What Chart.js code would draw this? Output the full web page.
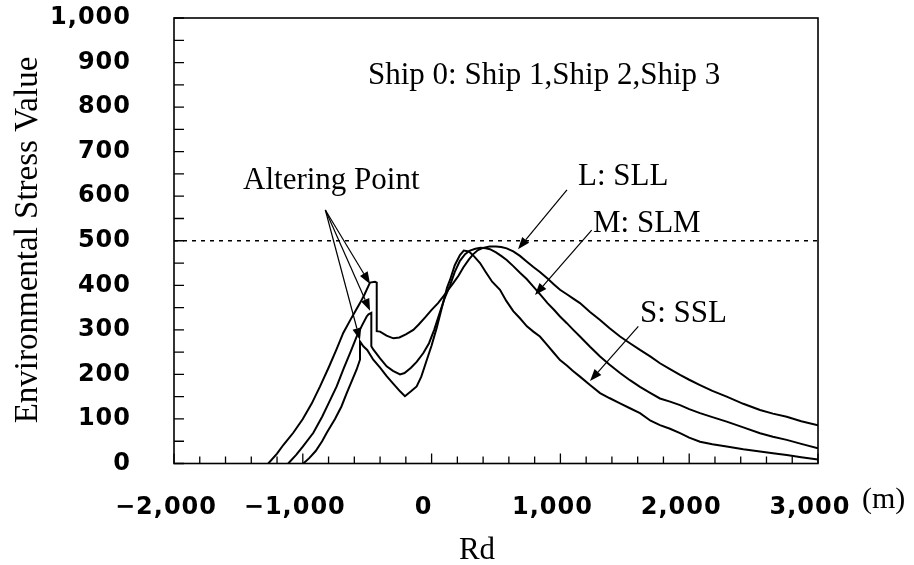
<!DOCTYPE html>
<html lang="en">
<head>
  <meta charset="UTF-8">
  <title>Environmental Stress Value vs Rd</title>
  <script src="https://cdn.jsdelivr.net/npm/chart.js"></script>
  <style>
    body { margin: 0; background: #fff; }
    canvas { display: block; }
  </style>
</head>
<body>
  <canvas id="esvChart" width="914" height="565"></canvas>

  <script>
    // Rd (m) and environmental stress value for each ship pair
    const rdL = [-1268, -1200, -1150, -1074, -1000, -930, -866, -800, -740, -686, -620, -556, -520, -491, -478, -440, -426,
      -426, -400, -350, -297, -250, -200, -142, -100, -50, 0, 50, 91, 130, 168, 210, 246, 290, 324, 360, 400, 450, 500,
      540, 583, 634, 686, 740, 790, 841, 900, 950, 997, 1050, 1100, 1152, 1230, 1308, 1380, 1463, 1540, 1618, 1700, 1773,
      1851, 1929, 2000, 2084, 2180, 2291, 2420, 2550, 2650, 2757, 2870, 3000];
    const esvL = [0, 22, 42, 69, 100, 135, 173, 215, 255, 293, 328, 360, 380, 398, 406, 408, 406,
      297, 296, 287, 281, 283, 290, 300, 312, 328, 345, 360, 375, 390, 405, 422, 440, 458, 470, 479, 484, 487, 487,
      486, 483, 476, 466, 453, 441, 430, 415, 402, 390, 380, 370, 360, 340, 322, 304, 285, 270, 255, 240, 225,
      212, 199, 188, 176, 163, 150, 134, 120, 112, 105, 95, 86];

    const rdM = [-1113, -1050, -1000, -918, -850, -800, -737, -680, -630, -582, -540, -504, -490, -468,
      -468, -453, -400, -349, -300, -245, -210, -160, -116, -64, -20, 20, 65, 100, 143, 180, 220, 260, 298, 340, 380,
      420, 453, 500, 540, 583, 634, 686, 738, 790, 841, 900, 950, 997, 1050, 1100, 1152, 1230, 1308, 1380, 1463, 1540,
      1618, 1700, 1773, 1851, 1929, 2000, 2084, 2180, 2291, 2420, 2550, 2650, 2757, 2870, 3000];
    const esvM = [0, 20, 38, 69, 105, 135, 173, 215, 250, 285, 310, 330, 335, 338,
      263, 256, 236, 218, 208, 200, 203, 215, 228, 248, 270, 300, 340, 370, 400, 430, 455, 470, 478, 482, 484,
      483, 481, 474, 466, 457, 443, 428, 414, 397, 380, 360, 345, 330, 315, 300, 285, 262, 240, 222, 203, 187,
      172, 158, 146, 139, 131, 122, 113, 104, 94, 81, 68, 60, 53, 44, 34];

    const rdS = [-996, -950, -900, -850, -814, -750, -700, -659, -620, -582, -556,
      -556, -530, -500, -453, -400, -349, -300, -245, -207, -160, -116, -80, -40, 0, 40, 80, 120, 143, 180, 220, 250,
      290, 330, 376, 420, 470, 531, 580, 634, 686, 740, 790, 841, 900, 950, 997, 1050, 1100, 1152, 1230, 1308, 1380,
      1463, 1540, 1618, 1700, 1773, 1851, 1929, 2000, 2084, 2180, 2291, 2420, 2550, 2650, 2757, 2870, 3000];
    const esvS = [0, 12, 28, 50, 69, 100, 128, 158, 185, 211, 233,
      274, 263, 255, 233, 215, 196, 180, 162, 151, 162, 173, 195, 230, 265, 305, 350, 395, 412, 445, 468, 478,
      476, 465, 450, 430, 408, 390, 365, 342, 326, 308, 296, 285, 265, 248, 232, 220, 207, 195, 176, 158, 147,
      135, 124, 113, 96, 86, 78, 68, 58, 49, 43, 38, 32, 27, 23, 19, 14, 9];

    const limitRd = [-2000, 3000];
    const limitEsv = [500, 500];

    const toPoints = (xs, ys) => xs.map((x, i) => ({ x, y: ys[i] }));

    const serif = '"Liberation Serif", "Times New Roman", serif';
    const tickFont = { family: '"DejaVu Sans", sans-serif', size: 24, weight: 'bold' };

    // callouts in data units: text baseline-left anchor and arrows [from, to]
    const callouts = [
      { text: 'Ship 0: Ship 1,Ship 2,Ship 3', at: [-494, 852], arrows: [] },
      { text: 'Altering Point', at: [-1464, 616],
        arrows: [[[-825, 569], [-478, 403]], [[-825, 569], [-478, 343]], [[-825, 569], [-556, 277]]] },
      { text: 'L: SLL', at: [1137, 625], arrows: [[[1051, 614], [671, 481]]] },
      { text: 'M: SLM', at: [1253, 520], arrows: [[[1243, 524], [803, 378]]] },
      { text: 'S: SSL', at: [1618, 318], arrows: [[[1605, 308], [1230, 185]]] }
    ];

    function drawArrow(ctx, x1, y1, x2, y2) {
      const ang = Math.atan2(y2 - y1, x2 - x1);
      const head = 12, half = 4.5;
      const bx = x2 - head * Math.cos(ang), by = y2 - head * Math.sin(ang);
      ctx.beginPath();
      ctx.moveTo(x1, y1);
      ctx.lineTo(bx, by);
      ctx.stroke();
      ctx.beginPath();
      ctx.moveTo(x2, y2);
      ctx.lineTo(bx + half * Math.sin(ang), by - half * Math.cos(ang));
      ctx.lineTo(bx - half * Math.sin(ang), by + half * Math.cos(ang));
      ctx.closePath();
      ctx.fill();
    }

    // box frame with inward ticks, axis titles, the "(m)" unit and callouts
    const framePlugin = {
      id: 'framePlugin',
      beforeDraw(chart) {
        // the bold tick numbers are set a little wide
        chart.ctx.letterSpacing = '1px';
      },
      afterDatasetsDraw(chart) {
        const { ctx, chartArea: a, scales: { x, y } } = chart;
        ctx.save();
        ctx.strokeStyle = '#000';
        ctx.lineWidth = 1.6;
        ctx.strokeRect(a.left, a.top, a.right - a.left, a.bottom - a.top);

        ctx.lineWidth = 1.3;
        ctx.beginPath();
        for (let v = 0; v <= 1000; v += 50) {
          const py = y.getPixelForValue(v);
          ctx.moveTo(a.left, py);
          ctx.lineTo(a.left + 10, py);
        }
        for (let v = -2000; v <= 3000; v += 200) {
          const px = x.getPixelForValue(v);
          const len = v % 1000 === 0 ? 10 : 7;
          ctx.moveTo(px, a.bottom);
          ctx.lineTo(px, a.bottom - len);
        }
        ctx.stroke();
        ctx.restore();
      },
      afterDraw(chart) {
        const { ctx, scales: { x, y } } = chart;
        ctx.save();
        ctx.letterSpacing = '0px';
        ctx.fillStyle = '#000';
        ctx.strokeStyle = '#000';

        ctx.font = '33px ' + serif;
        ctx.textAlign = 'center';
        ctx.textBaseline = 'middle';
        ctx.save();
        ctx.translate(28, 240);
        ctx.rotate(-Math.PI / 2);
        ctx.fillText('Environmental Stress Value', 0, 0);
        ctx.restore();

        ctx.textBaseline = 'alphabetic';
        ctx.font = '31px ' + serif;
        ctx.fillText('Rd', 477, 559);

        ctx.textAlign = 'left';
        ctx.font = '30px ' + serif;
        ctx.fillText('(m)', x.getPixelForValue(3000) + 44, 508);

        ctx.lineWidth = 1.2;
        ctx.font = '31px ' + serif;
        callouts.forEach(c => {
          ctx.fillText(c.text, x.getPixelForValue(c.at[0]), y.getPixelForValue(c.at[1]));
          c.arrows.forEach(([from, to]) => {
            drawArrow(ctx,
              x.getPixelForValue(from[0]), y.getPixelForValue(from[1]),
              x.getPixelForValue(to[0]), y.getPixelForValue(to[1]));
          });
        });
        ctx.restore();
      }
    };

    const curve = (label, data) => ({
      label,
      data,
      borderColor: '#000',
      borderWidth: 2,
      pointRadius: 0,
      tension: 0,
      fill: false
    });

    new Chart(document.getElementById('esvChart').getContext('2d'), {
      type: 'line',
      data: {
        datasets: [
          curve('L: SLL', toPoints(rdL, esvL)),
          curve('M: SLM', toPoints(rdM, esvM)),
          curve('S: SSL', toPoints(rdS, esvS)),
          {
            label: 'limit',
            data: toPoints(limitRd, limitEsv),
            borderColor: '#000',
            borderWidth: 1.5,
            borderDash: [4, 5],
            pointRadius: 0,
            fill: false
          }
        ]
      },
      options: {
        responsive: false,
        animation: false,
        layout: { padding: { top: 18, right: 96, left: 0, bottom: 0 } },
        plugins: { legend: { display: false }, tooltip: { enabled: false } },
        scales: {
          x: {
            type: 'linear',
            min: -2000,
            max: 3000,
            grid: { display: false, drawTicks: false },
            border: { display: false },
            afterFit: s => { s.height = 101.5; s.paddingLeft = 0; s.paddingRight = 0; },
            ticks: {
              stepSize: 1000,
              padding: 30,
              labelOffset: -8,
              color: '#000',
              font: tickFont,
              maxRotation: 0,
              callback: v => (v < 0 ? '\u2212' : '') + Math.abs(v).toLocaleString('en-US')
            }
          },
          y: {
            min: 0,
            max: 1000,
            grid: { display: false, drawTicks: false },
            border: { display: false },
            afterFit: s => { s.width = 174; s.paddingTop = 0; s.paddingBottom = 0; },
            ticks: {
              stepSize: 100,
              padding: 43,
              color: '#000',
              font: tickFont,
              callback: v => v.toLocaleString('en-US')
            }
          }
        }
      },
      plugins: [framePlugin]
    });
  </script>
</body>
</html>
